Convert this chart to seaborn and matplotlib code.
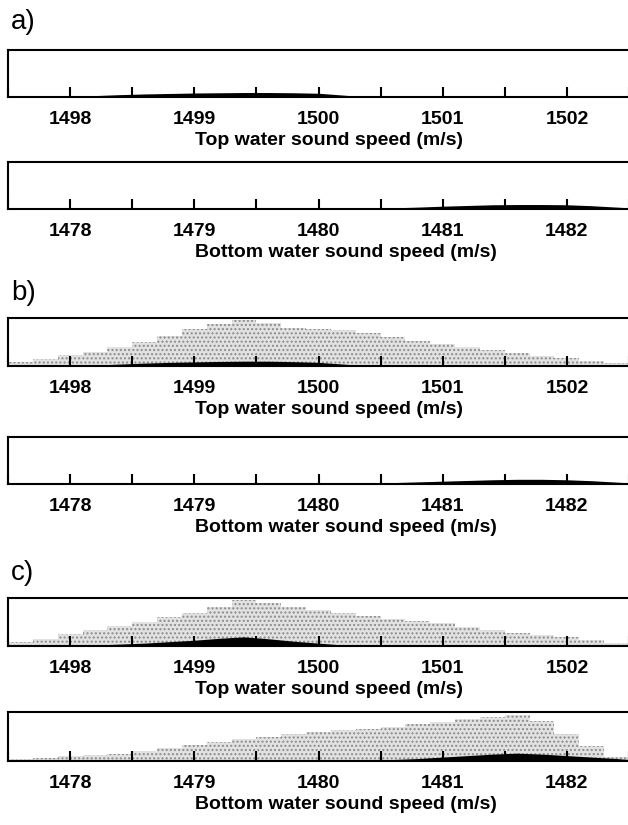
import numpy as np
import pandas as pd
import matplotlib
matplotlib.use("Agg")
import matplotlib.pyplot as plt
import seaborn as sns

# ---------------- data ----------------
panel_letters = ["a)", "b)", "c)"]
xlabels = ["Top water sound speed (m/s)", "Bottom water sound speed (m/s)"]
top_ticks = [1498, 1499, 1500, 1501, 1502]
bottom_ticks = [1478, 1479, 1480, 1481, 1482]

# prior-like (grey) histograms, bin centres every 0.2 m/s
top_grey_x = [1497.6, 1497.8, 1498.0, 1498.2, 1498.4, 1498.6, 1498.8, 1499.0, 1499.2,
              1499.4, 1499.6, 1499.8, 1500.0, 1500.2, 1500.4, 1500.6, 1500.8, 1501.0,
              1501.2, 1501.4, 1501.6, 1501.8, 1502.0, 1502.2, 1502.4]
b_top_grey = [0.08, 0.15, 0.23, 0.30, 0.40, 0.50, 0.62, 0.78, 0.88, 0.96, 0.90, 0.80, 0.77,
              0.74, 0.68, 0.60, 0.52, 0.45, 0.39, 0.33, 0.27, 0.21, 0.17, 0.10, 0.06]
c_top_grey = [0.08, 0.15, 0.25, 0.33, 0.42, 0.50, 0.60, 0.69, 0.82, 0.95, 0.90, 0.82, 0.75,
              0.69, 0.62, 0.57, 0.52, 0.47, 0.40, 0.33, 0.28, 0.23, 0.19, 0.12, 0.07]
bottom_grey_x = [1477.6, 1477.8, 1478.0, 1478.2, 1478.4, 1478.6, 1478.8, 1479.0, 1479.2,
                 1479.4, 1479.6, 1479.8, 1480.0, 1480.2, 1480.4, 1480.6, 1480.8, 1481.0,
                 1481.2, 1481.4, 1481.6, 1481.8, 1482.0, 1482.2, 1482.4]
c_bottom_grey = [0.04, 0.06, 0.10, 0.12, 0.15, 0.20, 0.26, 0.33, 0.38, 0.44, 0.50, 0.55, 0.60,
                 0.63, 0.66, 0.70, 0.75, 0.80, 0.86, 0.90, 0.93, 0.82, 0.55, 0.30, 0.08]

# posterior (black) distributions
top_black_x = [1497.8, 1498.0, 1498.2, 1498.4, 1498.6, 1498.8, 1499.0, 1499.2, 1499.4,
               1499.6, 1499.8, 1500.0, 1500.2, 1500.4]
a_top_black = [0.0, 0.02, 0.03, 0.05, 0.065, 0.075, 0.085, 0.09, 0.095, 0.095, 0.09, 0.08, 0.04, 0.0]
b_top_black = [0.0, 0.0, 0.02, 0.04, 0.06, 0.075, 0.085, 0.095, 0.10, 0.10, 0.09, 0.075, 0.04, 0.0]
c_top_black = [0.0, 0.01, 0.02, 0.04, 0.06, 0.09, 0.12, 0.16, 0.19, 0.15, 0.10, 0.06, 0.02, 0.0]
bottom_black_x = [1480.2, 1480.4, 1480.6, 1480.8, 1481.0, 1481.2, 1481.4, 1481.6, 1481.8,
                  1482.0, 1482.2, 1482.4, 1482.6]
a_bottom_black = [0.0, 0.01, 0.025, 0.04, 0.06, 0.075, 0.09, 0.095, 0.095, 0.09, 0.07, 0.04, 0.01]
b_bottom_black = [0.0, 0.01, 0.03, 0.045, 0.06, 0.075, 0.09, 0.10, 0.10, 0.09, 0.07, 0.04, 0.01]
c_bottom_black = [0.0, 0.01, 0.03, 0.05, 0.08, 0.11, 0.14, 0.16, 0.14, 0.11, 0.08, 0.05, 0.01]

# ---------------- style ----------------
sns.set_theme(style="white")
plt.rcParams["font.family"] = ["Liberation Sans", "DejaVu Sans"]
plt.rcParams["text.color"] = "black"
plt.rcParams["axes.labelcolor"] = "black"
plt.rcParams["xtick.color"] = "black"
plt.rcParams["axes.axisbelow"] = False
plt.rcParams["hatch.linewidth"] = 1.0
plt.rcParams["hatch.color"] = "#8c8c8c"

W, H = 628, 825
fig = plt.figure(figsize=(W / 100, H / 100), dpi=100)

# (top px, bottom px) of each box
boxes = [(50, 97), (162, 209), (318, 366), (437, 484), (598, 646), (712, 761)]
letter_y = [22, 293, 573]
ax_left, ax_w = 8, 621
label_start = 195

panels = [
    # (grey_x, grey, black_x, black, ticks, xlabel)
    (None, None, top_black_x, a_top_black, top_ticks, xlabels[0]),
    (None, None, bottom_black_x, a_bottom_black, bottom_ticks, xlabels[1]),
    (top_grey_x, b_top_grey, top_black_x, b_top_black, top_ticks, xlabels[0]),
    (None, None, bottom_black_x, b_bottom_black, bottom_ticks, xlabels[1]),
    (top_grey_x, c_top_grey, top_black_x, c_top_black, top_ticks, xlabels[0]),
    (bottom_grey_x, c_bottom_grey, bottom_black_x, c_bottom_black, bottom_ticks, xlabels[1]),
]


def hist(ax, x, w, element, color):
    df = pd.DataFrame({"x": x, "w": w})
    step = float(x[1] - x[0])
    n0 = len(ax.collections)
    sns.histplot(data=df, x="x", weights="w", binwidth=step,
                 binrange=(min(x) - step / 2, max(x) + step / 2),
                 element=element, fill=True, color=color, alpha=1.0,
                 linewidth=0, ax=ax)
    return ax.collections[n0:]


fs = 14
for (t, b), (gx, gy, bx, by, ticks, xl) in zip(boxes, panels):
    ax = fig.add_axes([ax_left / W, 1 - b / H, ax_w / W, (b - t) / H])
    if gx is not None:
        for coll in hist(ax, gx, gy, "step", "#e2e2e2"):
            coll.set_hatch("....")
            coll.set_edgecolor("#8c8c8c")
            coll.set_linewidth(0)
    hist(ax, bx, by, "poly", "black")
    for ln in ax.lines:
        ln.set_visible(False)
    ax.set_xlim(ticks[0] - 0.5, ticks[-1] + 0.5)
    ax.set_ylim(0, 1)
    ax.set_yticks([])
    ax.set_ylabel("")
    ax.set_xticks(ticks)
    ax.set_xticklabels([str(v) for v in ticks], fontsize=fs, fontweight="bold",
                       color="black")
    ax.set_xticks([v + 0.5 for v in [ticks[0] - 1] + ticks], minor=True)
    ax.tick_params(axis="x", which="both", direction="in", length=7, width=1.5,
                   color="black", bottom=True, top=False, pad=10)
    ax.set_xlabel(xl, fontsize=fs, fontweight="bold", labelpad=3, loc="left",
                  color="black")
    ax.xaxis.label.set_x((label_start - ax_left) / ax_w)
    for s in ["left", "top", "bottom"]:
        ax.spines[s].set_color("black")
        ax.spines[s].set_linewidth(1.5)
        ax.spines[s].set_zorder(3)
    ax.spines["right"].set_visible(False)
    ax.set_facecolor("white")
    ax.set_axisbelow(False)
    for c in ax.collections:
        c.set_zorder(1)

for lt, y in zip(panel_letters, letter_y):
    fig.text(11 / W, 1 - y / H, lt, fontsize=20, ha="left", va="center", color="black")

fig.savefig("out.png", dpi=100)
